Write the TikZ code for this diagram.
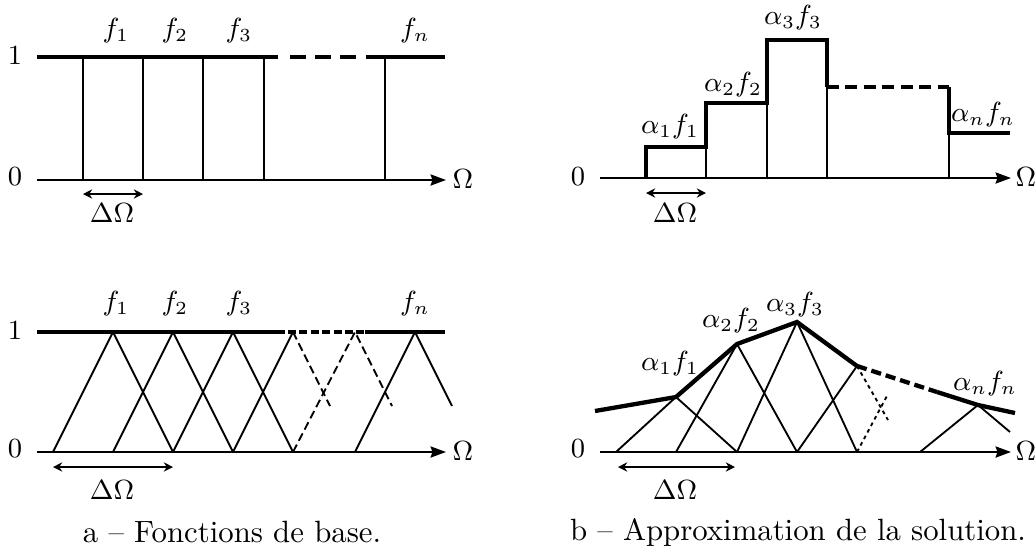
\documentclass[tikz,border=0pt]{standalone}
\usepackage{tikz}
\usetikzlibrary{arrows.meta}
\usepackage{amsmath}
\usepackage{amssymb}

\begin{document}
\begin{tikzpicture}[x=0.325pt, y=-0.325pt]

    \tikzstyle{axis} = [line width=0.7pt, -{Stealth[length=5pt, width=3.6pt, inset=0.6pt]}]
    \tikzstyle{thinline} = [line width=0.6pt]
    \tikzstyle{plateau} = [line width=1.4pt]
    \tikzstyle{span} = [line width=0.9pt, {Stealth[length=3pt, width=3pt]}-{Stealth[length=3pt, width=3pt]}]
    \tikzstyle{lbl} = [font=\small, inner sep=0pt]
    \tikzstyle{caption} = [font=\normalsize, inner sep=0pt]

    \useasboundingbox (0,0) rectangle (1036,549);

    % a) top: step functions
    \node (one1) [lbl] at (15,56) {$1$};
    \node (zero1) [lbl] at (15,177) {$0$};
    \foreach \x in {83,143,203,264,385}
        \draw[thinline] (\x,57) -- (\x,180);
    \draw[plateau] (37,57) -- (278,57);
    \draw[plateau, dash pattern=on 5.2pt off 3pt] (290,57) -- (367,57);
    \draw[plateau] (367,57) -- (445,57);
    \draw[axis] (37,180) -- (446,180);
    \node (om1) [lbl] at (463,179) {$\Omega$};
    \draw[span] (83,194) -- (143,194);
    \node (dom1) [lbl] at (112,213) {$\Delta\Omega$};
    \node (fa1) [lbl] at (116,31) {$f_1$};
    \node (fa2) [lbl] at (175,31) {$f_2$};
    \node (fa3) [lbl] at (239,31) {$f_3$};
    \node (fan) [lbl] at (415,31) {$f_n$};

    % b) top: weighted steps
    \node (zero2) [lbl] at (578,177) {$0$};
    \draw[thinline] (706,147) -- (706,178);
    \draw[thinline] (767,103) -- (767,178);
    \draw[thinline] (827,87) -- (827,178);
    \draw[thinline] (949,133) -- (949,178);
    \draw[axis] (600,178) -- (1011,178);
    \node (om2) [lbl] at (1026,177) {$\Omega$};
    \draw[plateau] (646,178) -- (646,147) -- (706,147) -- (706,103) -- (767,103)
        -- (767,40) -- (827,40) -- (827,87);
    \draw[plateau, dash pattern=on 3.8pt off 2.2pt] (827,87) -- (949,87);
    \draw[plateau] (949,87) -- (949,133) -- (1010,133);
    \draw[span] (646,193) -- (706,193);
    \node (dom2) [lbl] at (675,213) {$\Delta\Omega$};
    \node (ga1) [lbl] at (670,127) {$\alpha_1 f_1$};
    \node (ga2) [lbl] at (733,85) {$\alpha_2 f_2$};
    \node (ga3) [lbl] at (793,18) {$\alpha_3 f_3$};
    \node (gan) [lbl] at (983,115) {$\alpha_n f_n$};

    % a) bottom: hat functions
    \node (one3) [lbl] at (15,331) {$1$};
    \node (zero3) [lbl] at (15,449) {$0$};
    \foreach \x in {113,173,233}
        \draw[thinline] (\x-60,452) -- (\x,332) -- (\x+60,452);
    \draw[thinline] (233,452) -- (293,332);
    \draw[thinline, dash pattern=on 2.7pt off 1.4pt] (293,332) -- (330,406);
    \draw[thinline, dash pattern=on 2.7pt off 1.4pt] (293,452) -- (355,332) -- (392,406);
    \draw[thinline] (355,452) -- (415,332) -- (452,406);
    \draw[plateau] (37,332) -- (285,332);
    \draw[plateau, dash pattern=on 2.6pt off 1.1pt] (288,332) -- (365,332);
    \draw[plateau] (365,332) -- (445,332);
    \draw[axis] (37,452) -- (446,452);
    \node (om3) [lbl] at (463,451) {$\Omega$};
    \draw[span] (53,467) -- (173,467);
    \node (dom3) [lbl] at (112,490) {$\Delta\Omega$};
    \node (fb1) [lbl] at (116,304) {$f_1$};
    \node (fb2) [lbl] at (175,304) {$f_2$};
    \node (fb3) [lbl] at (239,304) {$f_3$};
    \node (fbn) [lbl] at (415,304) {$f_n$};
    \node (capa) [caption] at (232,532) {a -- Fonctions de base.};

    % b) bottom: piecewise linear solution
    \node (zero4) [lbl] at (578,449) {$0$};
    \draw[thinline] (616,452) -- (676,397) -- (737,452);
    \draw[thinline] (676,452) -- (737,344) -- (797,452);
    \draw[thinline] (737,452) -- (797,322) -- (857,452);
    \draw[thinline] (797,452) -- (857,366);
    \draw[thinline, dash pattern=on 1.2pt off 1.2pt] (857,366) -- (888,420);
    \draw[thinline, dash pattern=on 1.2pt off 1.2pt] (857,452) -- (888,394);
    \draw[thinline] (920,452) -- (978,405) -- (1010,432);
    \draw[plateau] (595,411) -- (676,397) -- (737,344) -- (797,322) -- (857,366);
    \draw[plateau, dash pattern=on 3.3pt off 1.6pt] (857,366) -- (937,392);
    \draw[plateau] (937,392) -- (978,405) -- (1015,413);
    \draw[axis] (600,452) -- (1011,452);
    \node (om4) [lbl] at (1026,451) {$\Omega$};
    \draw[span] (618,467) -- (735,467);
    \node (dom4) [lbl] at (675,490) {$\Delta\Omega$};
    \node (hb1) [lbl] at (670,364) {$\alpha_1 f_1$};
    \node (hb2) [lbl] at (731,321) {$\alpha_2 f_2$};
    \node (hb3) [lbl] at (795,305) {$\alpha_3 f_3$};
    \node (hbn) [lbl] at (985,384) {$\alpha_n f_n$};
    \node (capb) [caption] at (798,532) {b -- Approximation de la solution.};

\end{tikzpicture}
\end{document}
